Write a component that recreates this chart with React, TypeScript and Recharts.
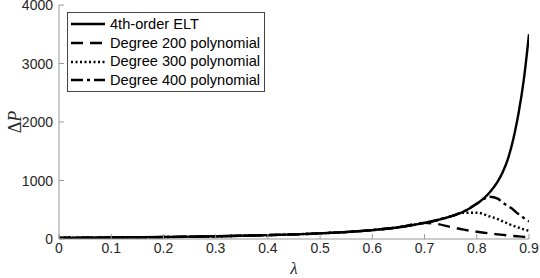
import { LineChart, Line, XAxis, YAxis, Legend } from 'recharts';

const lambdas = [0, 0.1, 0.2, 0.3, 0.4, 0.5, 0.6, 0.65, 0.7, 0.725, 0.75, 0.775, 0.8, 0.825, 0.84, 0.85, 0.86, 0.87, 0.875, 0.88, 0.89, 0.9];
const eltValues = [20, 25, 33, 46, 66, 97, 152, 200, 275, 325, 385, 470, 600, 800, 980, 1150, 1380, 1710, 1920, 2150, 2720, 3500];
const deg200Values = [20, 25, 33, 46, 66, 97, 152, 200, 275, 255, 205, 160, 125, 95, 80, 70, 60, 52, 48, 45, 37, 30];
const deg300Values = [20, 25, 33, 46, 66, 97, 152, 200, 275, 325, 385, 450, 450, 385, 340, 300, 262, 225, 210, 195, 165, 140];
const deg400Values = [20, 25, 33, 46, 66, 97, 152, 200, 275, 325, 385, 470, 605, 723, 690, 620, 560, 500, 460, 425, 360, 300];

const xTicks = [0, 0.1, 0.2, 0.3, 0.4, 0.5, 0.6, 0.7, 0.8, 0.9];
const yTicks = [0, 1000, 2000, 3000, 4000];

const seriesNames = ['4th-order ELT', 'Degree 200 polynomial', 'Degree 300 polynomial', 'Degree 400 polynomial'];
const seriesKeys = ['elt', 'd200', 'd300', 'd400'];
const dashes = ['', '12 7', '2 2.5', '12 4 3 4'];

const data = lambdas.map((lam, i) => ({
  lam,
  elt: eltValues[i],
  d200: deg200Values[i],
  d300: deg300Values[i],
  d400: deg400Values[i],
}));

const AXIS = '#999999';
const TEXT = '#262626';
const FONT = '"Liberation Sans", Arial, Helvetica, sans-serif';
const MATH = '"Liberation Serif", "Times New Roman", serif';

function BottomTick(props: any) {
  const { x, y, payload } = props;
  return (
    <g>
      <line x1={x} y1={y} x2={x} y2={y - 5} stroke={AXIS} />
      <text x={x} y={y + 14} textAnchor="middle" fill={TEXT} fontSize={14} fontFamily={FONT}>
        {payload.value}
      </text>
    </g>
  );
}

function TopTick(props: any) {
  const { x, y } = props;
  return <line x1={x} y1={y} x2={x} y2={y + 5} stroke={AXIS} />;
}

function LeftTick(props: any) {
  const { x, y, payload } = props;
  return (
    <g>
      <line x1={x} y1={y} x2={x + 5} y2={y} stroke={AXIS} />
      <text x={x - 6} y={y + 5} textAnchor="end" fill={TEXT} fontSize={14} fontFamily={FONT}>
        {payload.value}
      </text>
    </g>
  );
}

function RightTick(props: any) {
  const { x, y } = props;
  return <line x1={x} y1={y} x2={x - 5} y2={y} stroke={AXIS} />;
}

function LegendBox() {
  return (
    <div
      style={{
        border: '1px solid #444',
        background: '#fff',
        padding: '2px 4px 1px 2px',
        fontFamily: FONT,
        fontSize: 14.6,
        color: '#000',
        lineHeight: '18.7px',
        whiteSpace: 'nowrap',
      }}
    >
      {seriesNames.map((name, i) => (
        <div key={name} style={{ display: 'flex', alignItems: 'center', height: 18.7 }}>
          <svg width={37} height={10} style={{ display: 'block' }}>
            <line x1={1} x2={35} y1={5} y2={5} stroke="#000" strokeWidth={2.4} strokeDasharray={dashes[i] || undefined} />
          </svg>
          <span style={{ marginLeft: 3 }}>{name}</span>
        </div>
      ))}
    </div>
  );
}

export default function App() {
  return (
    <div style={{ position: 'absolute', left: 0, top: 0, width: 540, height: 278, background: '#fff' }}>
      <LineChart width={540} height={278} data={data} margin={{ top: 5, right: 11, bottom: 0, left: 0 }}>
        <XAxis
          xAxisId="bottom"
          dataKey="lam"
          type="number"
          domain={[0, 0.9]}
          ticks={xTicks}
          height={39}
          tickSize={0}
          tickMargin={0}
          tickLine={false}
          axisLine={{ stroke: AXIS }}
          tick={BottomTick}
          interval={0}
          allowDataOverflow
          label={{
            content: (p: any) => {
              const vb = p.viewBox;
              return (
                <text x={vb.x + vb.width / 2} y={vb.y + 35} textAnchor="middle" fontFamily={MATH} fontStyle="italic" fontSize={17} fill={TEXT}>
                  λ
                </text>
              );
            },
          }}
        />
        <XAxis
          xAxisId="top"
          orientation="top"
          dataKey="lam"
          type="number"
          domain={[0, 0.9]}
          ticks={xTicks}
          height={0}
          tickSize={0}
          tickMargin={0}
          tickLine={false}
          axisLine={{ stroke: AXIS }}
          tick={TopTick}
          interval={0}
        />
        <YAxis
          yAxisId="left"
          type="number"
          domain={[0, 4000]}
          ticks={yTicks}
          width={59}
          tickSize={0}
          tickMargin={0}
          tickLine={false}
          axisLine={{ stroke: AXIS }}
          tick={LeftTick}
          interval={0}
          allowDataOverflow
          label={{
            content: (p: any) => {
              const vb = p.viewBox;
              const cx = vb.x + 21;
              const cy = vb.y + vb.height / 2;
              return (
                <text x={cx} y={cy} transform={`rotate(-90, ${cx}, ${cy})`} textAnchor="middle" fontFamily={MATH} fontSize={18} fill={TEXT}>
                  Δ<tspan fontStyle="italic">P</tspan>
                </text>
              );
            },
          }}
        />
        <YAxis
          yAxisId="right"
          orientation="right"
          type="number"
          domain={[0, 4000]}
          ticks={yTicks}
          width={0}
          tickSize={0}
          tickMargin={0}
          tickLine={false}
          axisLine={{ stroke: AXIS }}
          tick={RightTick}
          interval={0}
        />
        <Legend
          layout="vertical"
          align="center"
          verticalAlign="middle"
          content={LegendBox}
          wrapperStyle={{ left: 67, top: 12, width: 'auto', height: 'auto' }}
        />
        {[1, 2, 3, 0].map((i) => (
          <Line
            key={seriesKeys[i]}
            xAxisId="bottom"
            yAxisId="left"
            type="monotone"
            dataKey={seriesKeys[i]}
            name={seriesNames[i]}
            stroke="#000"
            strokeWidth={2.4}
            strokeDasharray={dashes[i] || undefined}
            dot={false}
            activeDot={false}
            isAnimationActive={false}
          />
        ))}
      </LineChart>
    </div>
  );
}
